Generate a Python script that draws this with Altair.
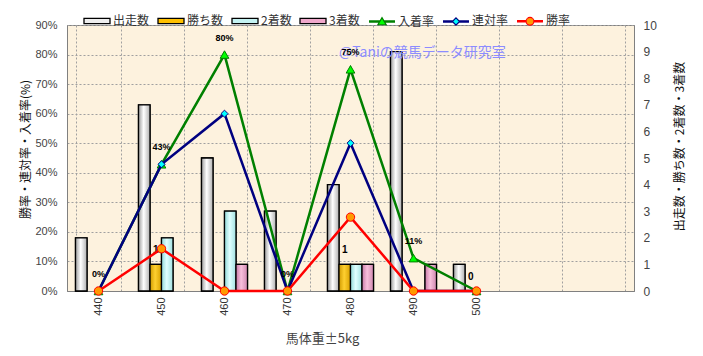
import altair as alt
import pandas as pd

# ---- data ----
weights = [440, 450, 460, 470, 480, 490, 500]
axis_slots = [440, 450, 460, 470, 480, 490, 500, 510, 520]
count_types = ["出走数", "勝ち数", "2着数", "3着数"]
starts = [2, 7, 5, 3, 4, 9, 1]
wins = [0, 1, 0, 0, 1, 0, 0]
seconds = [0, 2, 3, 0, 1, 0, 0]
thirds = [0, 0, 1, 0, 1, 1, 0]
rate_types = ["入着率", "連対率", "勝率"]
show_rate = [0, 42.86, 80, 0, 75, 11.11, 0]
top2_rate = [0, 42.86, 60, 0, 50, 0, 0]
win_rate = [0, 14.29, 0, 0, 25, 0, 0]
rate_labels = ["0%", "43%", "80%", "0%", "75%", "11%", ""]
win_labels = ["", "1", "", "", "1", "", "0"]
watermark = "@Taniの競馬データ研究室"

# ---- tables ----
count_series = dict(zip(count_types, [starts, wins, seconds, thirds]))
rows = []
for t, vals in count_series.items():
    for w, v in zip(weights, vals):
        rows.append({"weight": w, "type": t, "count": v})
counts_df = pd.DataFrame(rows)
bars_df = counts_df[counts_df["count"] > 0]
win_lab_df = pd.DataFrame({"weight": weights, "type": "勝ち数", "count": wins, "label": win_labels})
win_lab_df = win_lab_df[win_lab_df["label"] != ""]

rate_series = dict(zip(rate_types, [show_rate, top2_rate, win_rate]))
rrows = []
for t, vals in rate_series.items():
    for w, v in zip(weights, vals):
        rrows.append({"weight": w, "series": t, "rate": v})
rates_df = pd.DataFrame(rrows)
rate_lab_df = pd.DataFrame({"weight": weights, "rate": show_rate, "label": rate_labels})
rate_lab_df = rate_lab_df[rate_lab_df["label"] != ""]

JP = "Noto Sans CJK JP"
NUM = "Liberation Sans"

x_enc = alt.X(
    "weight:O",
    scale=alt.Scale(domain=axis_slots, paddingInner=0.27, paddingOuter=0.135),
    axis=alt.Axis(
        title="馬体重±5kg", labelAngle=270, tickBand="extent",
        labelExpr="datum.value > 500 ? '' : datum.label",
        grid=True, gridDash=[2, 2], gridColor="#a0a0a0", ticks=False, tickSize=0,
        domainColor="#808080", labelFont=NUM, labelFontSize=11, labelColor="#333333",
        labelPadding=6, titleFont=JP, titleFontSize=13, titleFontWeight="normal",
        titleColor="#444444", titleX=255, titleY=47, titleAlign="center",
        titleBaseline="middle",
    ),
)
xoff = alt.XOffset("type:N", scale=alt.Scale(domain=count_types, paddingInner=0, paddingOuter=0))

y_count = alt.Y(
    "count:Q",
    scale=alt.Scale(domain=[0, 10]),
    axis=alt.Axis(
        orient="right", values=list(range(11)), grid=False, ticks=False, tickSize=0,
        domainColor="#808080", labelFont=NUM, labelFontSize=12, labelColor="#444444",
        labelPadding=9, title="出走数・勝ち数・2着数・3着数", titleAngle=270,
        titleFont=JP, titleFontSize=12, titleFontWeight="normal", titleColor="#111111",
        titleX=45, titleY=121, titleAlign="center", titleBaseline="middle",
    ),
)

y_rate = alt.Y(
    "rate:Q",
    scale=alt.Scale(domain=[0, 90]),
    axis=alt.Axis(
        values=list(range(0, 91, 10)), labelExpr="datum.value + '%'",
        grid=True, gridDash=[2, 2], gridColor="#a0a0a0", ticks=False, tickSize=0,
        domainColor="#808080", labelFont=NUM, labelFontSize=11, labelColor="#444444",
        labelPadding=10, title="勝率・連対率・入着率(%)", titleAngle=270,
        titleFont=JP, titleFontSize=12, titleFontWeight="normal", titleColor="#111111",
        titleX=-42, titleY=124, titleAlign="center", titleBaseline="middle",
    ),
)

bar_fills = ["#eeeeee", "#ffc000", "#c4f2f2", "#f0a8cc"]
bar_legend = alt.Legend(
    orient="none", legendX=16, legendY=-18, direction="horizontal", title=None,
    symbolType="M-1,-0.2H1V0.2H-1Z", symbolSize=676, symbolStrokeColor="#000000",
    symbolStrokeWidth=1.3, labelFont=JP, labelFontSize=12, labelColor="#333333",
    labelOffset=2, columnPadding=5,
)
bar_base = alt.Chart(bars_df).mark_bar(stroke="#000000", strokeWidth=1.3).encode(
    x=x_enc, xOffset=xoff, y=y_count,
    color=alt.Color("type:N", scale=alt.Scale(domain=count_types, range=bar_fills), legend=bar_legend),
)

gradients = {
    "出走数": ["#9c9c9c", "#ffffff", "#b0b0b0"],
    "勝ち数": ["#d09a00", "#ffd030", "#d8a000"],
    "2着数": ["#90d8d8", "#e0ffff", "#a0e0e0"],
    "3着数": ["#c87aa8", "#f8c0dc", "#d088b0"],
}
overlays = []
for t in count_types:
    c0, c1, c2 = gradients[t]
    grad = alt.LinearGradient(
        gradient="linear", x1=0, y1=0, x2=1, y2=0,
        stops=[alt.GradientStop(offset=0, color=c0), alt.GradientStop(offset=0.45, color=c1),
               alt.GradientStop(offset=1, color=c2)],
    )
    overlays.append(
        alt.Chart(bars_df).transform_filter(alt.datum.type == t)
        .mark_bar(fill=grad, stroke="#000000", strokeWidth=1.3)
        .encode(x=x_enc, xOffset=xoff, y=y_count)
    )

win_text = alt.Chart(win_lab_df).mark_text(
    dy=-14, font=NUM, fontSize=10, fontWeight="bold", color="#000000"
).encode(x=x_enc, xOffset=xoff, y=y_count, text="label:N")

count_layer = alt.layer(bar_base, *overlays, win_text)

line_colors = ["#008000", "#000080", "#ff0000"]
marker_fill = ["#00ff00", "#00ffff", "#ff9900"]
marker_shape = ["triangle-up", "diamond", "circle"]
marker_size = [75, 50, 70]


def legend_line(gap):
    segs = []
    for yy in (-0.05, 0, 0.05):
        segs.append(f"M-1,{yy}H-{gap}M{gap},{yy}H1")
    return "".join(segs)


legend_paths = [
    legend_line(0.17) + "M-0.32,0.25L0,-0.3L0.32,0.25Z",
    legend_line(0.26) + "M0,-0.28L0.28,0L0,0.28L-0.28,0Z",
    legend_line(0.29) + "M0.3,0A0.3,0.3 0 1 1 -0.3,0A0.3,0.3 0 1 1 0.3,0Z",
]
shape_expr = (
    f"datum.value === '{rate_types[0]}' ? '{legend_paths[0]}' : "
    f"datum.value === '{rate_types[1]}' ? '{legend_paths[1]}' : '{legend_paths[2]}'"
)
rate_legend = alt.Legend(
    orient="none", legendX=301, legendY=-18, direction="horizontal", title=None,
    symbolSize=676, symbolStrokeWidth=1.2, labelFont=JP, labelFontSize=12,
    labelColor="#333333", labelOffset=2, columnPadding=5,
    symbolType={"expr": shape_expr},
)
stroke_enc = alt.Stroke("series:N", scale=alt.Scale(domain=rate_types, range=line_colors), legend=rate_legend)
fill_enc = alt.Fill("series:N", scale=alt.Scale(domain=rate_types, range=marker_fill), legend=rate_legend)

wm = alt.Chart(pd.DataFrame({"t": [watermark]})).mark_text(
    align="left", baseline="middle", font=JP, fontSize=14, color="#8c8cff"
).encode(text="t:N", x=alt.value(272), y=alt.value(28))

rate_layers = [wm]
for i, s in enumerate(rate_types):
    base = alt.Chart(rates_df).transform_filter(alt.datum.series == s)
    rate_layers.append(
        base.mark_line(strokeWidth=2.5, stroke=line_colors[i]).encode(x=x_enc, y=y_rate)
    )
    rate_layers.append(
        base.mark_point(shape=marker_shape[i], filled=True, strokeWidth=1,
                        size=marker_size[i], opacity=1)
        .encode(x=x_enc, y=y_rate, fill=fill_enc, stroke=stroke_enc)
    )

rate_text = alt.Chart(rate_lab_df).mark_text(
    dy=-17, font=NUM, fontSize=9, fontWeight="bold", color="#000000"
).encode(x=x_enc, y=y_rate, text="label:N")
rate_layers.append(rate_text)

rate_layer = alt.layer(*rate_layers)

chart = (
    alt.layer(count_layer, rate_layer)
    .resolve_scale(y="independent")
    .properties(
        width=567, height=266,
        autosize=alt.AutoSizeParams(type="none"),
        padding={"left": 59, "top": 17, "right": 60, "bottom": 55},
        background="#ffffff",
    )
    .configure_view(fill="#fdf2de", stroke="#808080", strokeWidth=1)
)

chart.save("out.html", embed_options={"renderer": "svg", "actions": False})
